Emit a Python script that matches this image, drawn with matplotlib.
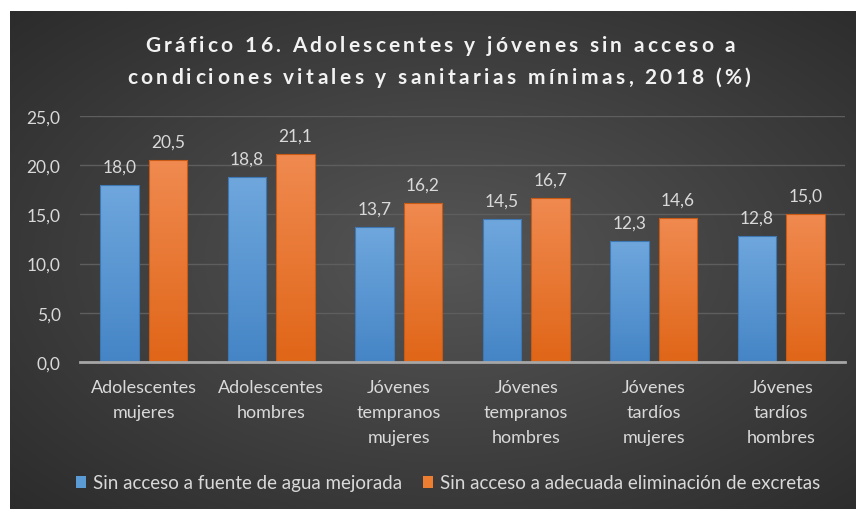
import numpy as np
import matplotlib
matplotlib.use("Agg")
import matplotlib.pyplot as plt
from matplotlib.colors import LinearSegmentedColormap
from matplotlib.patches import Patch
from matplotlib.font_manager import FontProperties

# ---- data ----
categories = ["Adolescentes\nmujeres", "Adolescentes\nhombres",
              "Jóvenes\ntempranos\nmujeres", "Jóvenes\ntempranos\nhombres",
              "Jóvenes\ntardíos\nmujeres", "Jóvenes\ntardíos\nhombres"]
agua = [18.0, 18.8, 13.7, 14.5, 12.3, 12.8]
excretas = [20.5, 21.1, 16.2, 16.7, 14.6, 15.0]
series_names = ["Sin acceso a fuente de agua mejorada",
                "Sin acceso a adecuada eliminación de excretas"]
yticks = [0, 5, 10, 15, 20, 25]
ytick_labels = ["0,0", "5,0", "10,0", "15,0", "20,0", "25,0"]
title_lines = ["Gráfico 16. Adolescentes y jóvenes sin acceso a",
               "condiciones vitales y sanitarias mínimas, 2018 (%)"]

FONT = ["Lato", "DejaVu Sans"]
plt.rcParams['font.family'] = FONT
TXT = "#d9d9d9"

W, H = 856, 510
fig = plt.figure(figsize=(W / 100, H / 100), dpi=100)
fig.patch.set_facecolor("white")

# background panel with radial gradient
bg = fig.add_axes([10 / W, 0, (W - 10) / W, (H - 12) / H])
bg.axis("off")
ny, nx = 250, 420
yy, xx = np.mgrid[0:1:ny * 1j, 0:1:nx * 1j]
r = np.sqrt(((xx - 0.52) / 0.75) ** 2 + ((yy - 0.5) / 0.75) ** 2)
t = np.clip(r, 0, 1)
bgcmap = LinearSegmentedColormap.from_list("bg", ["#565656", "#2a2a2a"])
bg.imshow(t, cmap=bgcmap, vmin=0, vmax=1, aspect="auto", extent=[0, 1, 0, 1],
          interpolation="bilinear")
bg.set_xlim(0, 1)
bg.set_ylim(0, 1)

# main axes
ax = fig.add_axes([80 / W, 147 / H, 765 / W, 246 / H])
ax.set_facecolor("none")
for s in ["top", "right", "left"]:
    ax.spines[s].set_visible(False)
ax.spines["bottom"].set_color("#a6a6a6")
ax.spines["bottom"].set_linewidth(2)
ax.spines["bottom"].set_zorder(5)
ax.set_yticks(yticks)
ax.set_yticklabels(ytick_labels, color=TXT, fontsize=12.5)
ax.yaxis.grid(True, color="#5e5e5e", linewidth=1)
ax.set_axisbelow(True)
ax.tick_params(axis="y", length=0, pad=14)
ax.set_xticks(range(len(categories)))
ax.set_xticklabels(categories, color=TXT, fontsize=13, linespacing=1.72)
ax.tick_params(axis="x", length=0, pad=12)

x = np.arange(len(categories))
bw = 0.30
off = 0.19
blue_cm = LinearSegmentedColormap.from_list("b", ["#4585c6", "#6fa7dd"])
orng_cm = LinearSegmentedColormap.from_list("o", ["#e06618", "#f08a50"])
grad = np.linspace(0, 1, 100).reshape(-1, 1)


def gbars(xpos, vals, cmap, edge):
    bars = ax.bar(xpos, vals, width=bw, color="none", edgecolor=edge,
                  linewidth=0.8, zorder=3)
    for b in bars:
        x0, y0 = b.get_x(), b.get_y()
        im = ax.imshow(grad, cmap=cmap, aspect="auto", origin="lower",
                       extent=[x0, x0 + b.get_width(), y0, y0 + b.get_height()],
                       zorder=2, interpolation="bilinear")
        im.set_clip_path(b)
    for xi, v in zip(xpos, vals):
        ax.annotate(f"{v:.1f}".replace(".", ","), (xi, v), xytext=(0, 7.5),
                    textcoords="offset points", ha="center", va="bottom",
                    color=TXT, fontsize=12.5)
    return bars


gbars(x - off, agua, blue_cm, "#3d78b5")
gbars(x + off, excretas, orng_cm, "#c85a15")
ax.set_xlim(-0.5, len(categories) - 0.5)
ax.set_ylim(0, 25)

# title with letter spacing
renderer = fig.canvas.get_renderer()
tprop = FontProperties(family=FONT, weight="bold", size=15)


def wid(s):
    return renderer.get_text_width_height_descent(s, tprop, ismath=False)[0]


def spaced_line(s, cx_px, base_px, target_w):
    n = len(s)
    natural = wid(s)
    sp = (target_w - natural) / (n - 1)
    total = natural + sp * (n - 1)
    x0 = cx_px - total / 2
    for i, c in enumerate(s):
        if c == " ":
            continue
        left = wid(s[:i + 1]) - wid(c) if i > 0 else 0
        fig.text((x0 + left + i * sp) / W, (H - base_px) / H, c,
                 fontproperties=tprop, ha="left", va="baseline",
                 color="#f2f2f2")


spaced_line(title_lines[0], 440, 52, 590)
spaced_line(title_lines[1], 438.5, 84, 623)

# legend
handles = [Patch(facecolor="#5b9bd5", edgecolor="none"),
           Patch(facecolor="#ed7d31", edgecolor="none")]
leg = fig.legend(handles, series_names, loc="center", ncol=2,
                 bbox_to_anchor=(448 / W, (H - 484) / H), frameon=False,
                 fontsize=13.5, handlelength=0.55, handleheight=0.55,
                 handletextpad=0.35, columnspacing=1.1)
for tx in leg.get_texts():
    tx.set_color(TXT)

fig.savefig("out.png", dpi=100, facecolor=fig.get_facecolor())
